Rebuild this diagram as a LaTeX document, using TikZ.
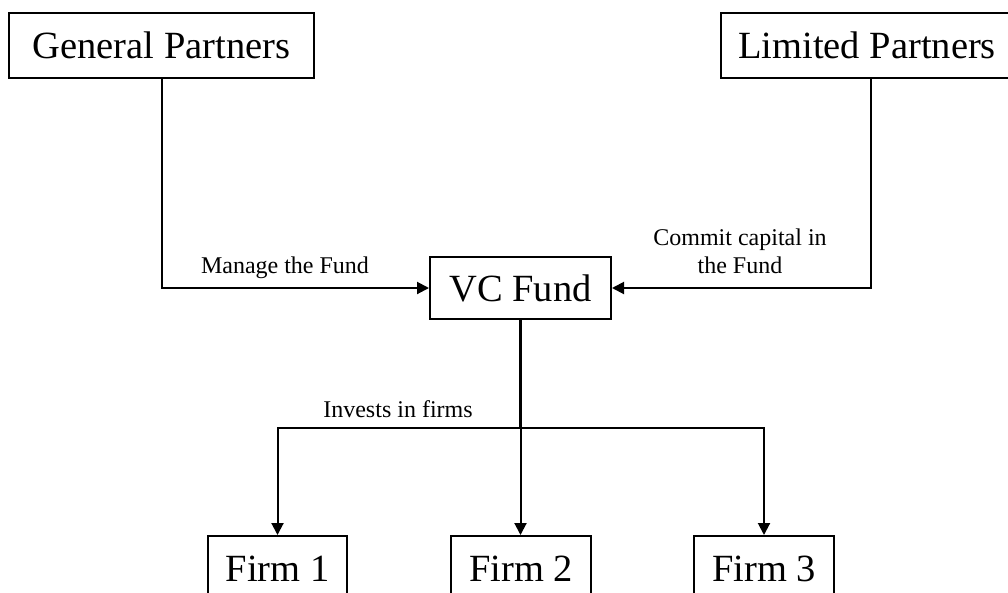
\documentclass[tikz,border=0pt]{standalone}
\usepackage{fontspec}
\setmainfont{Liberation Serif}
\usetikzlibrary{arrows.meta}
\tikzset{
  box/.style={draw, line width=2pt, fill=white, inner sep=0pt,
    minimum height=65pt, font=\fontsize{38.5}{44}\selectfont},
  lbl/.style={inner sep=0pt, font=\fontsize{24}{28}\selectfont},
  conn/.style={line width=2.8pt},
  arr/.style={line width=2pt, -{Triangle[length=12pt,width=12pt]}}
}
\begin{document}
\begin{tikzpicture}[x=1pt,y=-1pt]
\useasboundingbox (0,0) rectangle (1008,592);
\clip (0,0) rectangle (1008,592);
\fill[white] (0,0) rectangle (1008,592);
\node[box, minimum width=305pt] (gp) at (161.5,45.5) {General Partners};
\node[box, minimum width=292pt] (lp) at (867,45.5) {Limited Partners};
\node[box, minimum width=181pt, minimum height=62pt] (vc) at (520.5,288) {VC Fund};
\node[box, minimum width=139pt] (f1) at (277.5,568.5) {Firm 1};
\node[box, minimum width=140pt] (f2) at (521,568.5) {Firm 2};
\node[box, minimum width=140pt] (f3) at (764,568.5) {Firm 3};
\coordinate (hub) at (520.5,428);
\draw[arr] (gp.south) |- (vc.west);
\draw[arr] ([xshift=4pt]lp.south) |- (vc.east);
\draw[conn] (vc.south) -- (hub);
\draw[arr] (hub) -| (f1.north);
\draw[arr] (hub) -- (hub |- f2.north);
\draw[arr] (hub) -| (f3.north);
\node[lbl, anchor=base] (lm) at (285,273) {Manage the Fund};
\node[lbl, align=center] (lc) at (740,251) {Commit capital in\\the Fund};
\node[lbl, anchor=base] (li) at (398,417) {Invests in firms};
\end{tikzpicture}
\end{document}
